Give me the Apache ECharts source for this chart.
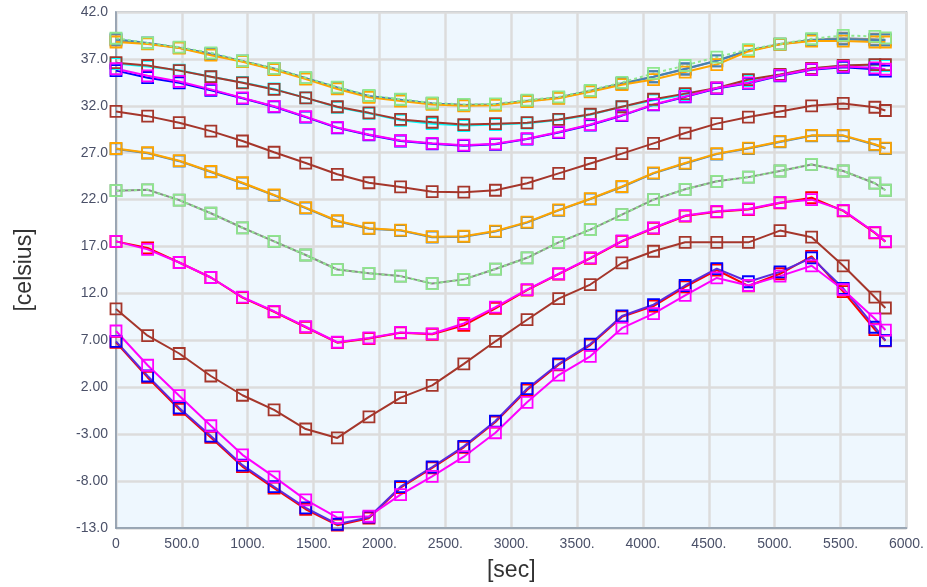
<!DOCTYPE html>
<html><head><meta charset="utf-8">
<script src="https://cdn.jsdelivr.net/npm/echarts@6/dist/echarts.min.js"></script>
<style>html,body{margin:0;padding:0;background:#fff}#c{width:927px;height:587px}</style>
</head><body><div id="c"></div>
<script>
// time axis (sec)
const times = [0,240,480,720,960,1200,1440,1680,1920,2160,2400,2640,2880,3120,3360,3600,3840,4080,4320,4560,4800,5040,5280,5520,5760,5840];
const yTicks = [-13,-8,-3,2,7,12,17,22,27,32,37,42];
const xTicks = [0,500,1000,1500,2000,2500,3000,3500,4000,4500,5000,5500,6000];

// group A (top)
const aGray   = [39.0,38.65,38.2,37.5,36.75,35.95,34.95,33.9,33.0,32.6,32.25,32.1,32.15,32.55,32.9,33.6,34.4,35.1,35.9,36.8,37.9,38.6,39.05,39.2,39.1,39.05];
const aSteel  = [39.1,38.7,38.2,37.55,36.75,35.95,34.95,33.95,33.05,32.65,32.25,32.1,32.15,32.5,32.85,33.55,34.35,35.1,35.95,36.8,37.9,38.55,39.0,39.1,39.0,39.0];
const aOrange = [38.8,38.6,38.15,37.4,36.7,35.85,34.85,33.8,32.9,32.5,32.15,32.0,32.05,32.45,32.8,33.5,34.25,34.8,35.6,36.4,37.8,38.55,38.9,38.9,38.8,38.8];
const aGreen  = [39.2,38.7,38.25,37.65,36.8,36.0,35.0,34.0,33.1,32.7,32.3,32.15,32.2,32.6,32.95,33.65,34.5,35.45,36.3,37.2,38.0,38.6,39.15,39.5,39.4,39.25];
// group B
const bCyan   = [36.5,36.2,35.8,35.1,34.5,33.8,32.85,31.85,31.2,30.45,30.1,29.9,30.0,30.15,30.5,31.05,31.9,32.6,33.2,33.85,34.7,35.3,35.95,36.3,36.35,36.3];
const bBrown  = [36.6,36.3,35.75,35.1,34.45,33.75,32.85,31.9,31.25,30.55,30.25,30.0,30.1,30.2,30.55,31.1,31.9,32.7,33.3,33.9,34.8,35.35,36.0,36.3,36.4,36.4];
// group C
const cBlue   = [35.75,35.0,34.45,33.65,32.8,31.9,30.8,29.65,28.9,28.25,27.95,27.75,27.9,28.45,29.15,29.95,30.95,32.1,32.95,33.85,34.4,35.2,35.85,36.1,35.9,35.7];
const cMag    = [35.95,35.2,34.6,33.75,32.85,31.95,30.85,29.7,28.95,28.3,28.0,27.8,27.95,28.5,29.2,30.0,31.0,32.15,33.0,33.9,34.45,35.25,35.9,36.2,36.05,35.9];
// group D
const dBrown  = [31.4,30.9,30.2,29.3,28.25,27.05,25.9,24.7,23.8,23.35,22.85,22.8,23.0,23.75,24.8,25.85,26.9,28.0,29.1,30.1,30.8,31.4,32.0,32.25,31.85,31.5];
// group E
const eSteel  = [27.4,26.95,26.1,24.95,23.75,22.45,21.1,19.7,18.9,18.7,18.0,18.05,18.6,19.55,20.85,22.05,23.35,24.8,25.85,26.85,27.45,28.15,28.8,28.8,27.85,27.45];
const eOrange = [27.45,27.0,26.15,25.0,23.8,22.5,21.15,19.75,18.95,18.75,18.05,18.1,18.65,19.6,20.9,22.1,23.4,24.85,25.9,26.9,27.5,28.2,28.85,28.85,27.9,27.5];
// group F
const fGray   = [22.95,23.05,21.95,20.55,19.0,17.55,16.1,14.55,14.15,13.85,13.05,13.5,14.6,15.8,17.45,18.8,20.4,22.0,23.1,23.95,24.4,25.05,25.75,25.05,23.75,23.0];
const fGreen  = [22.95,23.05,21.95,20.55,19.0,17.55,16.1,14.55,14.15,13.85,13.05,13.5,14.6,15.8,17.45,18.8,20.4,22.0,23.1,23.95,24.4,25.05,25.75,25.05,23.75,23.0];
// group G
const gRed    = [17.55,16.85,15.3,13.7,11.55,10.05,8.4,6.75,7.2,7.8,7.65,8.6,10.4,12.35,14.05,15.75,17.55,18.95,20.25,20.7,20.95,21.65,22.2,20.8,18.45,17.5];
const gMag    = [17.55,16.7,15.3,13.7,11.6,10.1,8.45,6.8,7.25,7.85,7.7,8.8,10.55,12.4,14.1,15.8,17.6,19.0,20.3,20.75,21.0,21.7,22.0,20.85,18.5,17.55];
// group H
const hBrown  = [10.35,7.5,5.6,3.2,1.15,-0.4,-2.45,-3.4,-1.15,0.9,2.2,4.5,6.9,9.2,11.45,12.95,15.25,16.5,17.45,17.45,17.45,18.7,18.0,14.95,11.6,10.45];
// group I (bottom)
const iRed    = [6.8,3.05,-0.35,-3.35,-6.45,-8.75,-11.0,-12.7,-11.95,-8.7,-6.6,-4.4,-1.7,1.7,4.4,6.5,9.5,10.65,12.7,14.5,12.8,14.1,15.95,12.2,8.15,6.95];
const iBlue   = [6.9,3.2,-0.2,-3.2,-6.3,-8.6,-10.85,-12.6,-11.85,-8.6,-6.5,-4.3,-1.6,1.85,4.5,6.6,9.6,10.8,12.85,14.65,13.25,14.3,15.8,12.55,8.4,7.0];
const iMag    = [8.0,4.35,1.1,-2.1,-5.2,-7.55,-10.0,-11.9,-11.75,-9.45,-7.5,-5.4,-2.85,0.4,3.3,5.3,8.3,9.85,11.8,13.65,12.85,13.85,14.95,12.4,9.3,8.1];

const BROWN='#a5362b', ORANGE='#ffa500', LGREEN='#8ee88e', MAG='#ff00ff', BLUE='#0000ff', RED='#ff0000',
      CYAN='#00ffff', STEEL='#4682b4', GRAY='#8a8a8a';

function mk(vals, color, dashed, lineColor){
  return {
    type:'line', data: times.map((t,i)=>[t, vals[i]]),
    symbol:'rect', symbolSize:11, showSymbol:true,
    itemStyle:{color:'rgba(0,0,0,0)', borderColor:color, borderWidth:1.8},
    lineStyle:{color:lineColor||color, width:2, type: dashed ? [3,3] : 'solid'},
    emphasis:{disabled:true}, silent:true
  };
}
const series = [
  mk(aGray,GRAY), mk(aSteel,STEEL), mk(aOrange,ORANGE), mk(aGreen,LGREEN,true),
  mk(bCyan,CYAN), mk(bBrown,BROWN),
  mk(cBlue,BLUE), mk(cMag,MAG),
  mk(dBrown,BROWN),
  mk(eSteel,STEEL), mk(eOrange,ORANGE),
  mk(fGray,GRAY), mk(fGreen,LGREEN,true),
  mk(gRed,RED), mk(gMag,MAG),
  mk(hBrown,BROWN),
  mk(iRed,RED), mk(iBlue,BLUE,false,'#5a2be0'), mk(iMag,MAG)
];

const FONT='Liberation Sans, Arial, sans-serif';
const chart = echarts.init(document.getElementById('c'), null, {renderer:'canvas'});
chart.setOption({
  animation:false,
  grid:{left:116, right:20, top:12, bottom:59, show:true, backgroundColor:'#eef7fe', borderColor:'#8796a8', borderWidth:1.5},
  xAxis:{
    type:'value', min:0, max:6000, interval:500,
    name:'[sec]', nameLocation:'middle', nameGap:31,
    nameTextStyle:{fontSize:23, color:'#333', fontFamily:FONT},
    axisLine:{show:true, onZero:false, lineStyle:{color:'#8796a8', width:1.5}},
    axisTick:{show:false},
    axisLabel:{margin:9, fontSize:14, color:'#4a5068', fontFamily:FONT,
      formatter:v=> v===0 ? '0' : (v<1000 ? v.toFixed(1) : String(v)+'.')},
    splitLine:{show:true, lineStyle:{color:'#dcdcdc', width:2.5}}
  },
  yAxis:{
    type:'value', min:-13, max:42,
    name:'[celsius]', nameLocation:'middle', nameGap:80, nameRotate:90,
    nameTextStyle:{fontSize:23, color:'#333', fontFamily:FONT},
    axisLine:{show:true, onZero:false, lineStyle:{color:'#8796a8', width:1.5}},
    axisTick:{show:false, customValues:yTicks},
    axisLabel:{customValues:yTicks, margin:8, fontSize:14, color:'#4a5068', fontFamily:FONT,
      formatter:v=> Math.abs(v)>=10 ? v.toFixed(1) : v.toFixed(2)},
    splitLine:{show:true, lineStyle:{color:'#dcdcdc', width:2.5}}
  },
  series: series
});
</script>
</body></html>
